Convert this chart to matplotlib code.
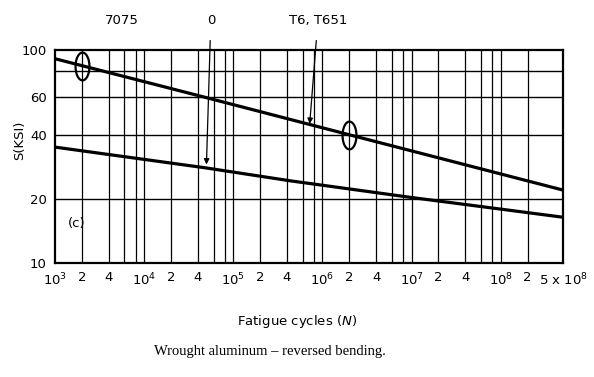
# S-N curve: wrought aluminum 7075, reversed bending (scan recreation)

import numpy as np
import matplotlib.pyplot as plt
from matplotlib.path import Path
import matplotlib.transforms as mtransforms

plt.rcParams['font.family'] = ['DejaVu Sans']

# 7075-T6, T651 (upper line)
n_t6 = [1e3, 4.8e4, 2e6, 5e8]
s_t6 = [91, 60, 40, 22]

# 7075-0 (lower line)
n_o = [1e3, 4.8e4, 4.4e5, 1e7, 5e8]
s_o = [35, 28, 24.3, 20.3, 16.4]

# circled test points on the T6 line
n_circ = [2e3, 2e6]
s_circ = [84, 40]

# grid / ticks
x_ticks = [1e3, 2e3, 4e3, 1e4, 2e4, 4e4, 1e5, 2e5, 4e5, 1e6, 2e6, 4e6,
           1e7, 2e7, 4e7, 1e8, 2e8, 5e8]
x_labels = [r'$10^3$', '2', '4', r'$10^4$', '2', '4', r'$10^5$', '2', '4',
            r'$10^6$', '2', '4', r'$10^7$', '2', '4', r'$10^8$', '2',
            r'5 x $10^8$']
x_grid = [2e3, 4e3, 6e3, 8e3, 1e4, 2e4, 4e4, 6e4, 8e4, 1e5, 2e5, 4e5, 6e5,
          8e5, 1e6, 2e6, 4e6, 6e6, 8e6, 1e7, 2e7, 4e7, 6e7, 8e7, 1e8, 2e8]
y_ticks = [100, 60, 40, 20, 10]
y_grid = [80, 60, 40, 20]

fig = plt.figure(figsize=(5.94, 3.77), dpi=100)
ax = fig.add_axes([55/594, 1 - 263/377, 508/594, 213/377])
ax.set_xscale('log')
ax.set_yscale('log')
ax.set_xlim(1e3, 5e8)
ax.set_ylim(10, 100)

for v in x_grid:
    ax.axvline(v, color='black', lw=0.9)
for v in y_grid:
    ax.axhline(v, color='black', lw=1.0)

ax.plot(n_t6, s_t6, color='black', lw=2.3)
ax.plot(n_o, s_o, color='black', lw=2.3)

# elliptical circle marker
t = np.linspace(0, 2*np.pi, 60)
ell = Path(np.column_stack([0.5*np.cos(t), np.sin(t)]))
ax.plot(n_circ, s_circ, ls='none', marker=ell, markersize=20,
        markerfacecolor='none', markeredgecolor='black', markeredgewidth=1.6)

ax.set_xticks(x_ticks)
ax.set_xticklabels(x_labels)
ax.xaxis.set_minor_locator(plt.NullLocator())
ax.set_yticks(y_ticks)
ax.set_yticklabels([str(v) for v in y_ticks])
ax.yaxis.set_minor_locator(plt.NullLocator())
ax.tick_params(length=0, labelsize=9.5, pad=6)
for sp in ax.spines.values():
    sp.set_linewidth(1.6)

ax.text(0.026, 0.17, '(c)', transform=ax.transAxes, fontsize=9.5)

# curve labels above the plot
tr = mtransforms.blended_transform_factory(ax.transData, ax.transAxes)
ax.text(5.6e3, 1.14, '7075', transform=tr, ha='center', va='center', fontsize=9.5)
ax.annotate('0', xy=(5e4, 29), xycoords='data', xytext=(5.6e4, 1.14),
            textcoords=tr, ha='center', va='center', fontsize=9.5,
            arrowprops=dict(arrowstyle='-|>', color='black', lw=0.9,
                            mutation_scale=8, shrinkA=8, shrinkB=0))
ax.annotate('T6, T651', xy=(7.2e5, 45), xycoords='data', xytext=(8.9e5, 1.14),
            textcoords=tr, ha='center', va='center', fontsize=9.5,
            arrowprops=dict(arrowstyle='-|>', color='black', lw=0.9,
                            mutation_scale=8, shrinkA=8, shrinkB=0))

fig.text(20/594, 1 - 140/377, 'S(KSI)', rotation=90, ha='center', va='center',
         fontsize=9.5)
fig.text(297/594, 1 - 322/377, r'Fatigue cycles ($N$)', ha='center',
         va='center', fontsize=9.5)
fig.text(270/594, 1 - 352/377, 'Wrought aluminum \u2013 reversed bending.',
         ha='center', va='center', fontsize=10.5,
         family=['Liberation Serif', 'DejaVu Serif'])

fig.savefig('out.png', dpi=100)
